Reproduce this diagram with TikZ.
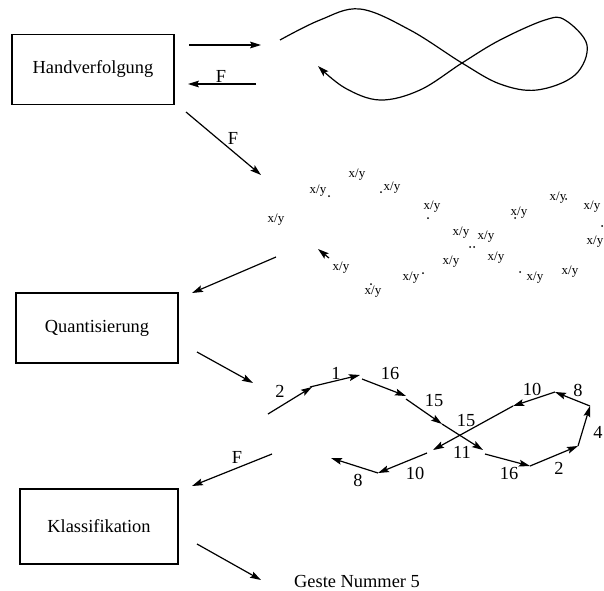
\documentclass[tikz,border=0pt]{standalone}
\usepackage{fontspec}
\setmainfont{Liberation Serif}
\usetikzlibrary{arrows.meta,positioning}

\begin{document}
\begin{tikzpicture}[
  x=0.5pt, y=-0.5pt,
  stage/.style={draw, line width=0.6pt, minimum width=81pt, minimum height=35pt, inner sep=0pt, font=\fontsize{9.2}{11}\selectfont},
  arr/.style={-{Stealth[length=5.5pt,width=3.4pt,inset=1pt]}, line width=0.6pt},
  lbl/.style={font=\fontsize{9.2}{11}\selectfont, inner sep=0pt},
  xy/.style={font=\fontsize{6.5}{8}\selectfont, inner sep=0pt},
  dot/.style={fill, circle, inner sep=0pt, minimum size=1pt},
]
\useasboundingbox (0,0) rectangle (604,590);

% ─── Stages (left column) ───
\node[stage] (hand) at (93,69.5) {Handverfolgung};
\node[stage] (quant) at (97,328) {Quantisierung};
\node[stage, minimum width=79pt, minimum height=37.5pt] (klass) at (99,526.5) {Klassifikation};

% ─── Stage 1: tracked hand path ───
\coordinate (h1) at (189,45);  \coordinate (h2) at (261,45);
\coordinate (f1) at (256,84);  \coordinate (f2) at (188,84);
\draw[arr] (h1) -- (h2);
\draw[arr] (f1) -- (f2);
\node[lbl] (fback) at (221,76) {F};
\draw[arr] plot[smooth, tension=0.6] coordinates {(280,40) (320,20) (360,9) (410,30) (462,63) (500,84) (537,90) (575,75) (587,45) (565,20) (545,20) (500,40) (462,63) (420,90) (380,100) (345,88) (318,66)};

% ─── Stage 2: sampled points ───
\coordinate (d1) at (186,112); \coordinate (d2) at (261,175);
\draw[arr] (d1) -- (d2);
\node[lbl] (fdown) at (233,138) {F};
\node[xy] (p1) at (276,220) {x/y};
\node[xy] (p2) at (318,191) {x/y};
\node[xy] (p3) at (357,175) {x/y};
\node[xy] (p4) at (392,188) {x/y};
\node[xy] (p5) at (432,207) {x/y};
\node[xy] (p6) at (461,233) {x/y};
\node[xy] (p7) at (486,237) {x/y};
\node[xy] (p8) at (519,213) {x/y};
\node[xy] (p9) at (558,198) {x/y};
\node[xy] (p10) at (592,207) {x/y};
\node[xy] (p11) at (595,242) {x/y};
\node[xy] (p12) at (341,268) {x/y};
\node[xy] (p13) at (373,292) {x/y};
\node[xy] (p14) at (411,278) {x/y};
\node[xy] (p15) at (451,262) {x/y};
\node[xy] (p16) at (496,258) {x/y};
\node[xy] (p17) at (535,278) {x/y};
\node[xy] (p18) at (570,272) {x/y};
\foreach \px/\py in {329/196, 381/192, 428/218, 470/247, 474/247, 515/218, 566/199, 602/226, 371/284, 423/273, 520/272}
  \node[dot] at (\px,\py) {};
\coordinate (s1) at (329,258); \coordinate (s2) at (318,249);
\draw[arr] (s1) -- (s2);
\coordinate (sq1) at (276,257); \coordinate (sq2) at (192,293);
\draw[arr] (sq1) -- (sq2);

% ─── Stage 3: quantised directions ───
\coordinate (qa) at (197,352); \coordinate (qb) at (253,383);
\draw[arr] (qa) -- (qb);
\coordinate (q1) at (268,414);  \coordinate (q2) at (312,387);
\coordinate (q3) at (310,387);  \coordinate (q4) at (360,375);
\coordinate (q5) at (362,379);  \coordinate (q6) at (406,396);
\coordinate (q7) at (406,399);  \coordinate (q8) at (442,424);
\coordinate (q9) at (483,450);
\coordinate (q10) at (485,454); \coordinate (q11) at (530,466);
\coordinate (q12) at (578,446); \coordinate (q13) at (590,406);
\coordinate (q14) at (555,392); \coordinate (q15) at (513,406);
\coordinate (q16) at (433,450);
\coordinate (q17) at (427,453); \coordinate (q18) at (378,473);
\coordinate (q19) at (331,458);
\draw[arr] (q1) -- (q2);
\draw[arr] (q3) -- (q4);
\draw[arr] (q5) -- (q6);
\draw[arr] (q7) -- (q8);
\draw[arr] (q8) -- (q9);
\draw[arr] (q10) -- (q11);
\draw[arr] (q11) -- (q12);
\draw[arr] (q12) -- (q13);
\draw[arr] (q13) -- (q14);
\draw[arr] (q14) -- (q15);
\draw[arr] (q15) -- (q16);
\draw[arr] (q17) -- (q18);
\draw[arr] (q18) -- (q19);
\node[lbl] (n1) at (280,391) {2};
\node[lbl] (n2) at (336,373) {1};
\node[lbl] (n3) at (390,373) {16};
\node[lbl] (n4) at (434,401) {15};
\node[lbl] (n5) at (466,421) {15};
\node[lbl] (n6) at (509,473) {16};
\node[lbl] (n7) at (559,468) {2};
\node[lbl] (n8) at (598,432) {4};
\node[lbl] (n9) at (578,390) {8};
\node[lbl] (n10) at (532,389) {10};
\node[lbl] (n11) at (462,452) {11};
\node[lbl] (n12) at (415,473) {10};
\node[lbl] (n13) at (358,480) {8};

% ─── Stage 4: result ───
\coordinate (k1) at (272,454); \coordinate (k2) at (192,486);
\draw[arr] (k1) -- (k2);
\node[lbl] (fres) at (237,457) {F};
\coordinate (g1) at (197,544); \coordinate (g2) at (261,580);
\draw[arr] (g1) -- (g2);
\node[lbl] (geste) at (357,581) {Geste Nummer 5};

\end{tikzpicture}
\end{document}
